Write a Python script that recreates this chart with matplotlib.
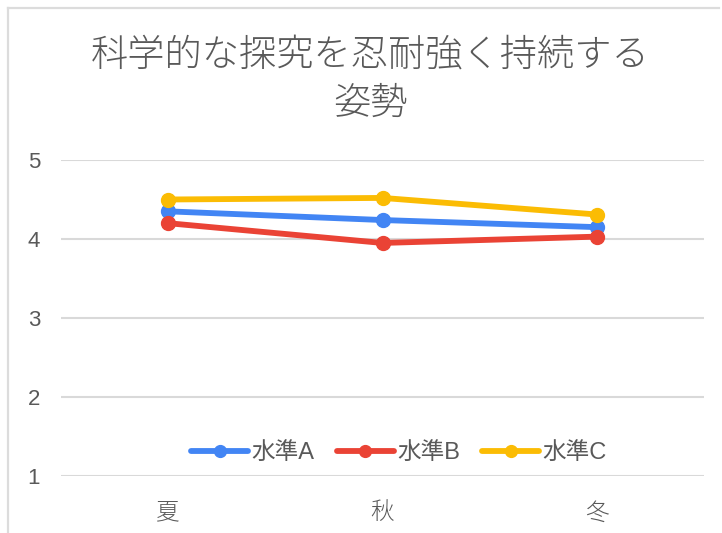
import matplotlib
matplotlib.use("Agg")
import matplotlib.pyplot as plt
from matplotlib.lines import Line2D

plt.rcParams['font.family'] = ['Liberation Sans', 'Noto Sans CJK JP', 'DejaVu Sans']

title = "科学的な探究を忍耐強く持続する\n姿勢"
seasons = ["夏", "秋", "冬"]
series_names = ["水準A", "水準B", "水準C"]
level_a = [4.35, 4.24, 4.15]
level_b = [4.20, 3.95, 4.03]
level_c = [4.50, 4.52, 4.31]
y_ticks = [1, 2, 3, 4, 5]

colors = ["#4285F4", "#EA4335", "#FBBC04"]
text_color = "#595959"
grid_color = "#d9d9d9"

W, H = 722, 533
fig = plt.figure(figsize=(W / 100, H / 100), dpi=100)
fig.patch.set_facecolor("white")

# light frame on the top and left edges
fig.add_artist(Line2D([8 / W, 8 / W], [0, 1 - 8 / H], transform=fig.transFigure,
                      color="#dcdcdc", lw=1.6))
fig.add_artist(Line2D([8 / W, 719 / W], [1 - 8 / H, 1 - 8 / H], transform=fig.transFigure,
                      color="#dcdcdc", lw=1.6))

left, right, top, bottom = 61, 704, 160, 476
ax = fig.add_axes([left / W, 1 - bottom / H, (right - left) / W, (bottom - top) / H])
ax.set_xlim(-0.5, len(seasons) - 0.5)
ax.set_ylim(1, 5)
for s in ax.spines.values():
    s.set_visible(False)
ax.set_yticks(y_ticks)
ax.set_yticklabels([str(t) for t in y_ticks])
ax.yaxis.grid(True, color=grid_color, lw=1.5)
ax.set_axisbelow(True)
ax.set_xticks(range(len(seasons)))
ax.set_xticklabels(seasons, fontweight="light")
ax.tick_params(axis="y", length=0, pad=15, labelsize=16, labelcolor=text_color)
ax.tick_params(axis="x", length=0, pad=19, labelsize=17, labelcolor=text_color)

for vals, name, c in zip([level_a, level_b, level_c], series_names, colors):
    ax.plot(range(len(seasons)), vals, color=c, lw=4.2, marker="o", ms=10,
            label=name, solid_capstyle="round", clip_on=False)

fig.text(370 / W, 1 - 80 / H, title, ha="center", va="center", fontsize=26.8,
         fontweight="light", color=text_color, linespacing=1.5)

handles, labels = ax.get_legend_handles_labels()
fig.legend(handles, labels, loc="center", bbox_to_anchor=(399 / W, 1 - 453 / H),
           ncol=3, frameon=False, fontsize=17, labelcolor=text_color,
           handlelength=2.4, handletextpad=0.15, columnspacing=0.95, markerscale=0.85)

fig.savefig("out.png", dpi=100, facecolor="white")
